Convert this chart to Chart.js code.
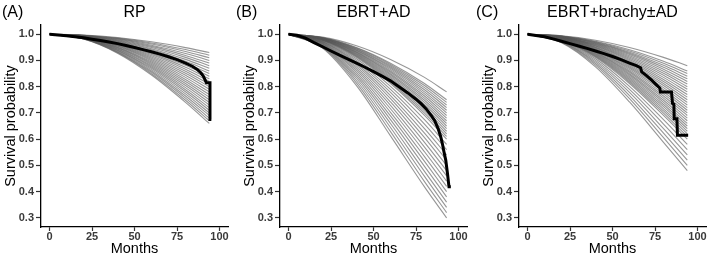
<!DOCTYPE html>
<html><head><meta charset="utf-8">
<script src="https://cdn.jsdelivr.net/npm/chart.js@4"></script>
<style>
body{margin:0;background:#fff;width:709px;height:258px;overflow:hidden;position:relative;font-family:"Liberation Sans",Arial,sans-serif}
canvas{position:absolute;top:0}
.lab{position:absolute;top:3px;font-size:16px;color:#000;line-height:18px;white-space:nowrap}
.ttl{position:absolute;top:3px;font-size:16px;color:#000;line-height:18px;white-space:nowrap;transform:translateX(-50%)}
</style></head><body>
<canvas id="cA" width="236" height="258" style="left:0px"></canvas>
<canvas id="cB" width="233" height="258" style="left:239px"></canvas>
<canvas id="cC" width="231" height="258" style="left:478px"></canvas>
<div class="lab" style="left:2px">(A)</div>
<div class="ttl" style="left:134.5px">RP</div>
<div class="lab" style="left:236px">(B)</div>
<div class="ttl" style="left:373.5px">EBRT+AD</div>
<div class="lab" style="left:476px">(C)</div>
<div class="ttl" style="left:612.5px">EBRT+brachy±AD</div>
<script>
// ---- axis ticks ----
const xTicks = [0, 25, 50, 75, 100];
const yTicks = [0.3, 0.4, 0.5, 0.6, 0.7, 0.8, 0.9, 1.0];
const xLabel = "Months";
const yLabel = "Survival probability";

// ---- months at which the gray model curves are read ----
const gridA = [0, 20, 40, 60, 80, 94];
const gridB = [0, 20, 40, 60, 80, 93];
const gridC = [0, 20, 40, 60, 80, 94];

// ---- gray model curves (survival at the grid months) ----
const grayA = [
 [1,0.9967,0.987,0.9709,0.9488,0.93],
 [1,0.9962,0.985,0.9666,0.9414,0.92],
 [1,0.9957,0.983,0.9623,0.934,0.91],
 [1,0.9952,0.981,0.958,0.9265,0.90],
 [1,0.9947,0.979,0.9536,0.9191,0.89],
 [1,0.9942,0.9771,0.9493,0.9116,0.88],
 [1,0.9937,0.975,0.9448,0.904,0.87],
 [1,0.9932,0.9731,0.9404,0.8965,0.86],
 [1,0.9927,0.971,0.936,0.889,0.85],
 [1,0.9921,0.9689,0.9314,0.8813,0.84],
 [1,0.9916,0.9668,0.9269,0.8738,0.83],
 [1,0.991,0.9647,0.9223,0.8661,0.82],
 [1,0.9905,0.9626,0.9177,0.8585,0.81],
 [1,0.9899,0.9604,0.9131,0.8508,0.80],
 [1,0.9894,0.9582,0.9084,0.8431,0.79],
 [1,0.9888,0.956,0.9037,0.8353,0.78],
 [1,0.9882,0.9538,0.899,0.8275,0.77],
 [1,0.9877,0.9515,0.8942,0.8197,0.76],
 [1,0.9871,0.9492,0.8894,0.8119,0.75],
 [1,0.9865,0.9469,0.8845,0.8041,0.74],
 [1,0.9858,0.9446,0.8797,0.7962,0.73],
 [1,0.9852,0.9422,0.8747,0.7883,0.72],
 [1,0.9846,0.9399,0.8698,0.7803,0.71],
 [1,0.984,0.9374,0.8648,0.7723,0.70],
 [1,0.9833,0.935,0.8597,0.7643,0.69],
 [1,0.9827,0.9325,0.8546,0.7562,0.68],
 [1,0.982,0.93,0.8494,0.7482,0.67],
 [1,0.9813,0.9275,0.8443,0.7401,0.66]
];
const grayB = [
 [1,0.9888,0.956,0.9037,0.8353,0.78],
 [1,0.9871,0.9492,0.8894,0.8119,0.75],
 [1,0.9865,0.9469,0.8845,0.8041,0.74],
 [1,0.9858,0.9446,0.8797,0.7962,0.73],
 [1,0.9852,0.9422,0.8747,0.7883,0.72],
 [1,0.9846,0.9399,0.8698,0.7803,0.71],
 [1,0.984,0.9374,0.8648,0.7723,0.70],
 [1,0.9833,0.935,0.8597,0.7643,0.69],
 [1,0.9827,0.9325,0.8546,0.7562,0.68],
 [1,0.982,0.93,0.8494,0.7482,0.67],
 [1,0.9813,0.9275,0.8443,0.7401,0.66],
 [1,0.9807,0.9249,0.839,0.732,0.65],
 [1,0.98,0.9224,0.8338,0.7238,0.64],
 [1,0.9793,0.9197,0.8284,0.7156,0.63],
 [1,0.9786,0.9171,0.8231,0.7074,0.62],
 [1,0.9779,0.9144,0.8176,0.6991,0.61],
 [1,0.9771,0.9116,0.8121,0.6907,0.60],
 [1,0.9756,0.9061,0.801,0.674,0.58],
 [1,0.9741,0.9003,0.7896,0.6571,0.56],
 [1,0.9725,0.8944,0.778,0.64,0.54],
 [1,0.9708,0.8883,0.7661,0.6228,0.52],
 [1,0.9691,0.882,0.754,0.6053,0.50],
 [1,0.9673,0.8755,0.7416,0.5877,0.48],
 [1,0.9654,0.8688,0.7288,0.5698,0.46],
 [1,0.9635,0.8618,0.7157,0.5518,0.44],
 [1,0.9615,0.8546,0.7023,0.5335,0.42],
 [1,0.9593,0.8471,0.6884,0.515,0.40],
 [1,0.9571,0.8393,0.6742,0.4962,0.38],
 [1,0.9548,0.8311,0.6595,0.4771,0.36],
 [1,0.9523,0.8225,0.6444,0.4578,0.34],
 [1,0.9497,0.8136,0.6286,0.4381,0.32],
 [1,0.9469,0.8041,0.6123,0.4181,0.30]
];
const grayC = [
 [1,0.9942,0.9771,0.9493,0.9116,0.88],
 [1,0.9932,0.9731,0.9404,0.8965,0.86],
 [1,0.9927,0.971,0.936,0.889,0.85],
 [1,0.9921,0.9689,0.9314,0.8813,0.84],
 [1,0.9916,0.9668,0.9269,0.8738,0.83],
 [1,0.991,0.9647,0.9223,0.8661,0.82],
 [1,0.9905,0.9626,0.9177,0.8585,0.81],
 [1,0.9899,0.9604,0.9131,0.8508,0.80],
 [1,0.9894,0.9582,0.9084,0.8431,0.79],
 [1,0.9888,0.956,0.9037,0.8353,0.78],
 [1,0.9882,0.9538,0.899,0.8275,0.77],
 [1,0.9877,0.9515,0.8942,0.8197,0.76],
 [1,0.9871,0.9492,0.8894,0.8119,0.75],
 [1,0.9865,0.9469,0.8845,0.8041,0.74],
 [1,0.9858,0.9446,0.8797,0.7962,0.73],
 [1,0.9852,0.9422,0.8747,0.7883,0.72],
 [1,0.9846,0.9399,0.8698,0.7803,0.71],
 [1,0.984,0.9374,0.8648,0.7723,0.70],
 [1,0.9833,0.935,0.8597,0.7643,0.69],
 [1,0.9827,0.9325,0.8546,0.7562,0.68],
 [1,0.982,0.93,0.8494,0.7482,0.67],
 [1,0.9813,0.9275,0.8443,0.7401,0.66],
 [1,0.9807,0.9249,0.839,0.732,0.65],
 [1,0.98,0.9224,0.8338,0.7238,0.64],
 [1,0.9793,0.9197,0.8284,0.7156,0.63],
 [1,0.9786,0.9171,0.8231,0.7074,0.62],
 [1,0.9779,0.9144,0.8176,0.6991,0.61],
 [1,0.9771,0.9116,0.8121,0.6907,0.60],
 [1,0.9756,0.9061,0.801,0.674,0.58],
 [1,0.9741,0.9003,0.7896,0.6571,0.56],
 [1,0.9725,0.8944,0.778,0.64,0.54],
 [1,0.9708,0.8883,0.7661,0.6228,0.52],
 [1,0.9691,0.882,0.754,0.6053,0.50],
 [1,0.9673,0.8755,0.7416,0.5877,0.48]
];

// ---- black Kaplan-Meier curves ----
const kmA_t = [0,5,10,15,20,25,30,35,40,45,50,55,60,65,70,75,80,84,87,89,90.5,91.5,92.3,94.4,94.4,95.2];
const kmA_s = [1.0,0.997,0.994,0.99,0.986,0.981,0.976,0.97,0.964,0.957,0.949,0.941,0.933,0.924,0.914,0.903,0.89,0.878,0.865,0.853,0.84,0.826,0.815,0.815,0.675,0.675];
const kmB_t = [0,5,10,15,20,25,30,35,40,45,50,55,60,65,70,75,78,81,84,86,88,89.5,90.5,91.5,92.5,93.5,94.4,95.5];
const kmB_s = [1.0,0.996,0.985,0.968,0.952,0.936,0.92,0.905,0.89,0.874,0.857,0.84,0.822,0.80,0.777,0.752,0.735,0.715,0.69,0.67,0.64,0.61,0.583,0.55,0.52,0.47,0.418,0.418];
const kmC_t = [0,5,10,15,20,25,30,35,40,45,50,55,60,64,66.5,67.2,70,73,76,77.8,78.2,84.7,85.3,86.1,86.3,87.9,88.2,94.5];
const kmC_s = [1.0,0.995,0.99,0.982,0.973,0.964,0.955,0.946,0.936,0.926,0.915,0.903,0.89,0.88,0.872,0.856,0.842,0.825,0.806,0.795,0.78,0.78,0.736,0.733,0.678,0.678,0.615,0.615];

Chart.defaults.font.family = "'Liberation Sans', Arial, sans-serif";

function makeChart(id, grid, grays, kmT, kmS, padRight) {
  const datasets = [{
    data: kmT.map((t, i) => ({x: t, y: kmS[i]})),
    borderColor: '#000', borderWidth: 3, pointRadius: 0, tension: 0, order: 0,
    borderJoinStyle: 'miter'
  }];
  grays.forEach(row => {
    datasets.push({
      data: grid.map((t, i) => ({x: t, y: row[i]})),
      borderColor: 'rgba(85,85,85,0.62)', borderWidth: 1.1, pointRadius: 0,
      cubicInterpolationMode: 'monotone', order: 1
    });
  });
  const tickFont = {size: 11, weight: 'bold'};
  return new Chart(document.getElementById(id), {
    type: 'line',
    data: {datasets},
    options: {
      responsive: false, animation: false, devicePixelRatio: 1,
      layout: {padding: {top: 25, right: padRight, bottom: 0, left: 0}},
      plugins: {legend: {display: false}, tooltip: {enabled: false}},
      scales: {
        x: {
          type: 'linear', min: -5, max: 105,
          afterFit: s => { s.height = 31; },
          afterBuildTicks: s => { s.ticks = xTicks.map(v => ({value: v})); },
          grid: {drawOnChartArea: false, drawTicks: true, tickLength: 4, color: '#333', tickWidth: 1.2},
          border: {display: true, color: '#000', width: 1.3},
          ticks: {color: '#3a3a3a', font: tickFont, padding: -1, maxRotation: 0},
          title: {display: true, text: xLabel, color: '#000', font: {size: 14.5}, padding: {top: 0, bottom: 0}}
        },
        y: {
          type: 'linear', min: 0.265, max: 1.035,
          afterFit: s => { s.width = 41; },
          afterBuildTicks: s => { s.ticks = yTicks.map(v => ({value: v})); },
          grid: {drawOnChartArea: false, drawTicks: true, tickLength: 5, color: '#333', tickWidth: 1.2},
          border: {display: true, color: '#000', width: 1.3},
          ticks: {color: '#3a3a3a', font: tickFont, padding: 2, callback: v => v.toFixed(1)},
          title: {display: true, text: yLabel, color: '#000', font: {size: 14.5}, padding: {top: 2, bottom: 0}}
        }
      }
    }
  });
}

makeChart('cA', gridA, grayA, kmA_t, kmA_s, 8);
makeChart('cB', gridB, grayB, kmB_t, kmB_s, 5);
makeChart('cC', gridC, grayC, kmC_t, kmC_s, 3);
</script>
</body></html>
